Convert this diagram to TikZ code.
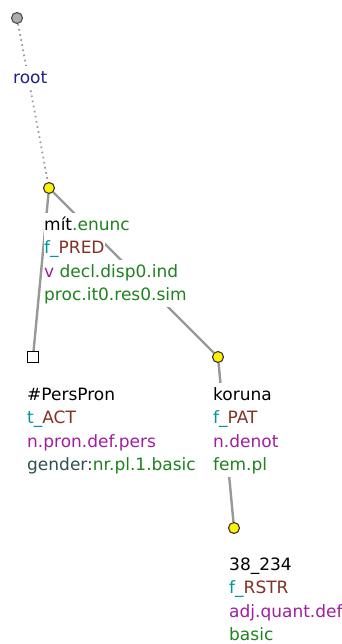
\documentclass[tikz,border=0pt]{standalone}
\usepackage{fontspec}
\setmainfont{DejaVu Sans}
\usetikzlibrary{calc}

\definecolor{attrgreen}{RGB}{30,130,30}
\definecolor{functeal}{RGB}{0,150,150}
\definecolor{funcbrown}{RGB}{130,50,35}
\definecolor{posviolet}{RGB}{160,30,160}
\definecolor{rootblue}{RGB}{30,30,140}
\definecolor{gramslate}{RGB}{47,79,79}
\definecolor{edgegray}{RGB}{152,152,152}

% one text line on a white strip
\newcommand{\tline}[1]{{\setlength{\fboxsep}{0pt}\colorbox{white}{\rule[-6pt]{0pt}{23.5pt}#1}}}

\begin{document}
\begin{tikzpicture}[
      x=1pt, y=-1pt,
      font=\fontsize{17}{23.5}\selectfont,
      vertex/.style={circle, draw=black!80, fill=yellow, line width=1.1pt,
        inner sep=0pt, minimum size=11pt},
      rootvertex/.style={vertex, draw=black!70, fill=black!32},
      hidden/.style={rectangle, draw=black, fill=white, line width=1.1pt,
        inner sep=0pt, minimum size=11pt},
      edge/.style={draw=edgegray, line width=2.4pt},
      rootedge/.style={draw=edgegray, line width=1.8pt,
        dash pattern=on 1.6pt off 3.6pt},
      nodelabel/.style={anchor=north west, align=left, inner sep=0pt}
    ]
    \useasboundingbox (0,0) rectangle (342,644);

    \node[rootvertex] (root) at (17,18) {};
    \node[vertex] (mit) at (49,188) {};
    \node[hidden] (perspron) at (33,357) {};
    \node[vertex] (koruna) at (218,357) {};
    \node[vertex] (num) at (234,528) {};

    \draw[rootedge] (root) -- (mit);
    \draw[edge] (mit) -- (perspron);
    \draw[edge] (mit) -- (koruna);
    \draw[edge] (koruna) -- (num);

    \node[nodelabel] (root-lbl) at ($(root)+(-4,47.5)$)
      {\tline{\textcolor{rootblue}{root}}};
    \node[nodelabel] (mit-lbl) at ($(mit)+(-5,24.5)$)
      {\tline{mít\textcolor{attrgreen}{.enunc}}\\
       \tline{\textcolor{functeal}{f\_}\textcolor{funcbrown}{PRED}}\\
       \tline{\textcolor{posviolet}{v} \textcolor{attrgreen}{decl.disp0.ind}}\\
       \tline{\textcolor{attrgreen}{proc.it0.res0.sim}}};
    \node[nodelabel] (perspron-lbl) at ($(perspron)+(-6,25.5)$)
      {\tline{\#PersPron}\\
       \tline{\textcolor{functeal}{t\_}\textcolor{funcbrown}{ACT}}\\
       \tline{\textcolor{posviolet}{n.pron.def.pers}}\\
       \tline{\textcolor{gramslate}{gender:}\textcolor{attrgreen}{nr.pl.1.basic}}};
    \node[nodelabel] (koruna-lbl) at ($(koruna)+(-5,25.5)$)
      {\tline{koruna}\\
       \tline{\textcolor{functeal}{f\_}\textcolor{funcbrown}{PAT}}\\
       \tline{\textcolor{posviolet}{n.denot}}\\
       \tline{\textcolor{attrgreen}{fem.pl}}};
    \node[nodelabel] (num-lbl) at ($(num)+(-5,24.5)$)
      {\tline{38\_234}\\
       \tline{\textcolor{functeal}{f\_}\textcolor{funcbrown}{RSTR}}\\
       \tline{\textcolor{posviolet}{adj.quant.def}}\\
       \tline{\textcolor{attrgreen}{basic}}};
  \end{tikzpicture}
\end{document}
